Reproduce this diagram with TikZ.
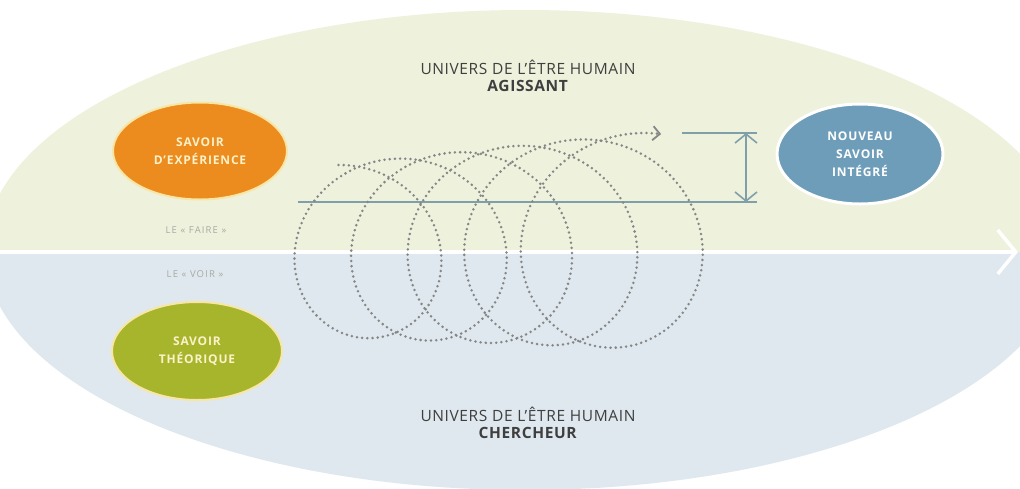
\documentclass[tikz,border=0pt]{standalone}
\usepackage{fontspec}
\setmainfont{Open Sans}
\usetikzlibrary{arrows.meta,shapes.geometric}
\definecolor{topbg}{HTML}{EEF1DC}
\definecolor{botbg}{HTML}{DEE8EE}
\definecolor{orangeS}{HTML}{EC8B1E}
\definecolor{greenS}{HTML}{A6B52C}
\definecolor{blueS}{HTML}{6E9DB9}
\definecolor{lineC}{HTML}{7FA0A8}
\definecolor{dotC}{HTML}{868686}
\definecolor{titleC}{HTML}{3F3F3F}
\definecolor{smallC}{HTML}{A9AAA2}
\definecolor{paleT}{HTML}{FCF1C8}
\definecolor{paleO}{HTML}{F8E6A6}
\begin{document}
\begin{tikzpicture}[x=1pt,y=-1pt,
  bubble/.style={ellipse, inner sep=0pt, align=center, font=\fontsize{12}{18}\selectfont\bfseries\addfontfeature{LetterSpace=7}, line width=2pt},
  title/.style={align=center, text=titleC, font=\fontsize{15.5}{17}\selectfont\addfontfeature{LetterSpace=4}},
  small/.style={text=smallC, font=\fontsize{9.5}{10}\selectfont\addfontfeature{LetterSpace=12}},
  guide/.style={draw=lineC, line width=1.6pt},
  spiral/.style={draw=dotC, line width=2.8pt, line cap=round, dash pattern=on 0pt off 5.2pt}
]
\useasboundingbox (0,0) rectangle (1020,488);
\fill[white] (0,0) rectangle (1020,488);
\begin{scope}
  \clip (0,0) rectangle (1020,252);
  \fill[topbg] (525,250) ellipse [x radius=540, y radius=240];
\end{scope}
\begin{scope}
  \clip (0,252) rectangle (1020,488);
  \fill[botbg] (525,250) ellipse [x radius=540, y radius=240];
\end{scope}
\coordinate (divL) at (0,252);
\coordinate (divR) at (1018,252);
\draw[white, line width=3.5pt, -{Straight Barb[length=18pt,width=44pt]}] (divL) -- (divR);

\node[title] (top) at (528,76) {UNIVERS DE L’ÊTRE HUMAIN\\\textbf{AGISSANT}};
\node[title] (bot) at (528,423) {UNIVERS DE L’ÊTRE HUMAIN\\\textbf{CHERCHEUR}};
\node[small] (faire) at (196,230) {LE « FAIRE »};
\node[small] (voir) at (195,274) {LE « VOIR »};

\node[bubble, fill=orangeS, draw=paleO, text=paleT, minimum width=174pt, minimum height=97pt] (exp) at (200,151) {SAVOIR\\D’EXPÉRIENCE};
\node[bubble, fill=greenS, draw=paleO, text=paleT, minimum width=170pt, minimum height=98pt] (theo) at (197,351) {SAVOIR\\THÉORIQUE};
\node[bubble, fill=blueS, draw=white, text=white, line width=3pt, minimum width=166pt, minimum height=100pt] (new) at (860,154) {NOUVEAU\\SAVOIR\\INTÉGRÉ};

\coordinate (hL) at (298,202);
\coordinate (hR) at (757,202);
\coordinate (uL) at (682,133);
\coordinate (uR) at (757,133);
\coordinate (aT) at (746,133);
\coordinate (aB) at (746,202);
\draw[guide] (hL) -- (hR);
\draw[guide] (uL) -- (uR);
\draw[guide, {Straight Barb[length=9pt,width=22pt]}-{Straight Barb[length=9pt,width=22pt]}] (aT) -- (aB);

\draw[spiral, -{Straight Barb[length=7pt,width=14pt,line width=1.8pt]}] plot[domain=0:31.57, samples=500, variable=\t] ({338.5+9.7*\t+(86+0.7*\t)*sin(\t r)}, {251-0.32*\t-(86+0.7*\t)*cos(\t r)});
\end{tikzpicture}
\end{document}
